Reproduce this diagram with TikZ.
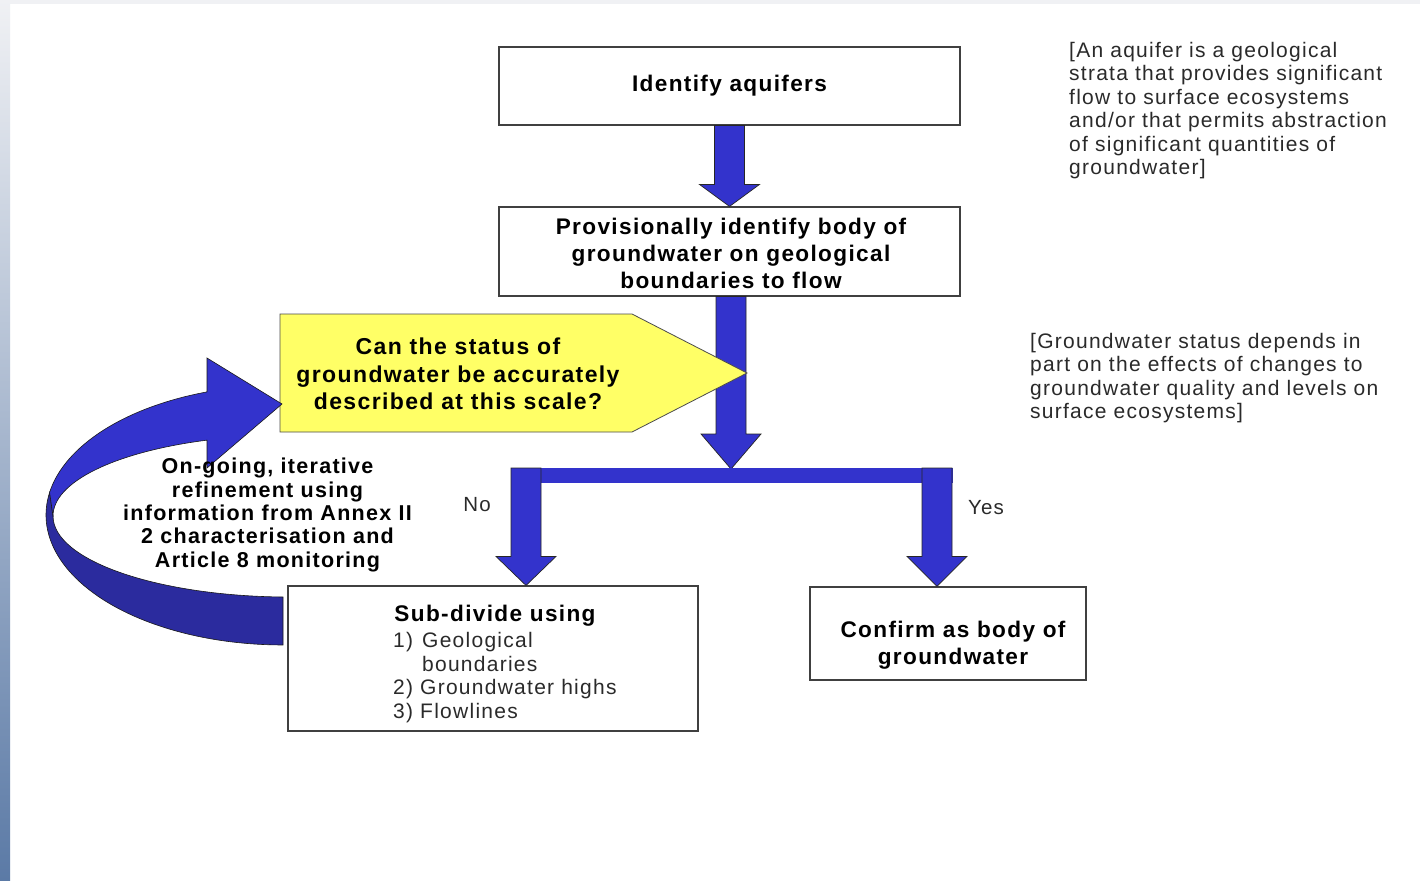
\documentclass[tikz,border=0pt]{standalone}
\usepackage{fontspec}
\setmainfont{Liberation Sans}[LetterSpace=6]
\usetikzlibrary{calc}

\definecolor{arrowblue}{HTML}{3333CC}
\definecolor{loopdark}{HTML}{2B2B9E}
\definecolor{qyellow}{HTML}{FFFF66}
\definecolor{boxline}{HTML}{404040}
\definecolor{notegray}{HTML}{2A2A2A}
\definecolor{stripTop}{HTML}{F0F1F4}
\definecolor{stripMid}{HTML}{CDD4E0}
\definecolor{stripBot}{HTML}{5B7AA6}

% block arrow pointing down: #1 start, #2 tip, #3 head length
\newcommand\blockdown[3]{%
  \draw[blk] let \p1=(#1), \p2=(#2) in
    (\x1-15pt,\y1) -- (\x1-15pt,\y2+#3) -- (\x1-30pt,\y2+#3) -- (\x1,\y2)
    -- (\x1+30pt,\y2+#3) -- (\x1+15pt,\y2+#3) -- (\x1+15pt,\y1) -- cycle;}

\begin{document}
\begin{tikzpicture}[x=1pt,y=-1pt,
  box/.style={draw=boxline,line width=1.1pt,fill=white,inner sep=0pt},
  blk/.style={fill=arrowblue,draw=black!85,line width=0.7pt,line join=miter},
  boldtxt/.style={font=\fontsize{22.6}{27}\selectfont\bfseries,align=center,inner sep=0pt},
  looptxt/.style={font=\fontsize{21.5}{23.3}\selectfont\bfseries,align=center,inner sep=0pt},
  itemtxt/.style={font=\fontsize{21}{23.7}\selectfont,text=notegray,align=left,inner sep=0pt},
  notetxt/.style={font=\fontsize{21}{23.5}\selectfont,text=notegray,align=left,inner sep=0pt},
  looplight/.style={fill=arrowblue,draw=black!90,line width=0.6pt},
  loopback/.style={fill=loopdark,draw=black!90,line width=0.6pt},
]
\useasboundingbox (0,0) rectangle (1420,880);

% page background
\fill[white] (0,0) rectangle (1420,880);
\fill[stripTop] (0,0) rectangle (1420,4);
\shade[top color=stripTop, middle color=stripMid, bottom color=stripBot] (0,0) rectangle (10,880);

% boxes
\node[box, minimum width=461pt, minimum height=78pt] (aq) at (729.5,86)
  {\fontsize{22.6}{27}\selectfont\bfseries Identify aquifers};
\node[box, minimum width=461pt, minimum height=89pt] (prov) at (729.5,251.5) {};
\node[boldtxt] (provtxt) at (731,253.5)
  {Provisionally identify body of\\groundwater on geological\\boundaries to flow};
\node[box, minimum width=410pt, minimum height=145pt] (sub) at (493,658.5) {};
\node[box, minimum width=276pt, minimum height=93pt] (conf) at (948,633.5) {};

% flow arrows
\blockdown{aq.south}{prov.north}{22pt}
\coordinate (split) at (731,469);
\blockdown{split |- prov.south}{split}{35pt}
\fill[arrowblue] (511,468) rectangle (953,483);
\coordinate (noTop) at (526,468);
\coordinate (yesTop) at (937,468);
\blockdown{noTop}{noTop |- sub.north}{29pt}
\blockdown{yesTop}{yesTop |- conf.north}{30pt}

% decision pentagon
\draw[fill=qyellow, draw=black!70, line width=0.8pt]
  (280,314) -- (632,314) -- (747,373) -- (632,432) -- (280,432) -- cycle;
\node[font=\fontsize{23}{27.5}\selectfont\bfseries, align=center, inner sep=0pt]
  (q) at (458,374)
  {Can the status of\\groundwater be accurately\\described at this scale?};

% iterative loop arrow: back face of the ribbon
\draw[loopback]
  (49.6,492.4) arc[start angle=170, end angle=270, x radius=237pt, y radius=130pt]
  -- (283,597)
  arc[start angle=268.3, end angle=180, x radius=237pt, y radius=81pt]
  -- cycle;
% front face with the head
\draw[looplight]
  (207,391.9) arc[start angle=108.7, end angle=170, x radius=237pt, y radius=130pt]
  -- (53,516)
  arc[start angle=180, end angle=110.5, x radius=237pt, y radius=81pt]
  -- (207,468) -- (282,404) -- (207,358) -- cycle;

\node[looptxt] (loop) at (267.5,515)
  {On-going, iterative\\refinement using\\information from Annex II\\2 characterisation and\\Article 8 monitoring};

% box texts
\node[font=\fontsize{22.6}{27}\selectfont\bfseries, inner sep=0pt] (subtitle) at (495,616)
  {Sub-divide using};
\node[itemtxt, anchor=north west] (subitems) at (393,632)
  {\makebox[29pt][l]{1)}Geological\\\hspace*{29pt}boundaries\\2) Groundwater highs\\3) Flowlines};
\node[boldtxt] (conftxt) at (953,645) {Confirm as body of\\groundwater};

% branch labels
\node[font=\fontsize{20.5}{24}\selectfont, text=notegray, inner sep=0pt] (no) at (477,505) {No};
\node[font=\fontsize{20.5}{24}\selectfont, text=notegray, inner sep=0pt] (yes) at (986,508) {Yes};

% side notes
\node[notetxt, anchor=north west] (note1) at (1069,42)
  {[An aquifer is a geological\\strata that provides significant\\flow to surface ecosystems\\and/or that permits abstraction\\of significant quantities of\\groundwater]};
\node[notetxt, anchor=north west] (note2) at (1030,333)
  {[Groundwater status depends in\\part on the effects of changes to\\groundwater quality and levels on\\surface ecosystems]};
\end{tikzpicture}
\end{document}
